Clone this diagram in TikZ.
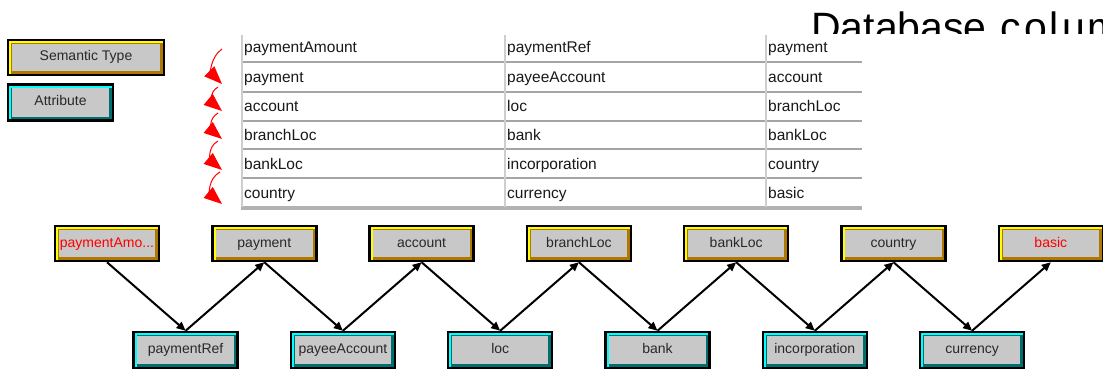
\documentclass[tikz,border=0pt]{standalone}
\usepackage{fontspec}
\setmainfont{Liberation Sans}
\usetikzlibrary{arrows.meta}

\definecolor{boxgray}{RGB}{200,200,200}
\definecolor{semhi}{RGB}{255,255,0}
\definecolor{semlo}{RGB}{176,120,0}
\definecolor{atthi}{RGB}{0,255,255}
\definecolor{attlo}{RGB}{0,110,110}
\definecolor{labeltext}{RGB}{40,40,40}
\definecolor{celltext}{RGB}{25,25,25}
\definecolor{gridlight}{RGB}{206,206,206}
\definecolor{gridmid}{RGB}{165,165,165}
\definecolor{hotred}{RGB}{255,0,0}

\newcommand\boxfont{\fontsize{14}{16}\selectfont}
\newcommand\cellfont{\fontsize{15.5}{18}\selectfont}

\tikzset{
  x=1pt, y=1pt,
  bevel/.style 2 args={path picture={
    \path (path picture bounding box.south west) coordinate (bsw)
          (path picture bounding box.north east) coordinate (bne);
    \fill[#1] (bsw) rectangle (bne);
    \fill[#2] ([xshift=3.2pt]bsw) rectangle ([yshift=-3.2pt]bne);
    \fill[boxgray] ([shift={(3.8pt,3.8pt)}]bsw) rectangle ([shift={(-3.8pt,-3.8pt)}]bne);
  }},
  boxbase/.style={draw=black, line width=2.5pt, minimum width=104pt,
    minimum height=35pt, inner sep=0pt, font=\boxfont, text=labeltext,
    text height=10pt, text depth=3pt},
  semtype/.style={boxbase, bevel={semhi}{semlo}},
  attrib/.style={boxbase, bevel={atthi}{attlo}},
  link/.style={draw=black, line width=2pt, -{Triangle[length=9pt,width=8pt]}},
  chain/.style={draw=hotred, line width=1pt, -{Triangle[length=18pt,width=14pt]}},
  cell/.style={anchor=base west, inner sep=0pt, font=\cellfont, text=celltext},
  rowrule/.style={draw=gridmid, line width=1.6pt},
  colrule/.style={draw=gridlight, line width=2.5pt}
}

\begin{document}
\begin{tikzpicture}
\useasboundingbox (0,0) rectangle (1103,370);
\fill[white] (0,0) rectangle (1103,370);

% heading, cut off by the table panel below it
\begin{scope}
  \clip (790,336) rectangle (1103,370);
  \node[anchor=base west, inner sep=0pt, font=\fontsize{41}{46}\selectfont]
    (heading) at (811,328) {Database\hspace{14pt}c\kern3pt o\kern3pt l\kern3pt u\kern3pt mn};
\end{scope}

% legend
\node[semtype, minimum width=156pt] (legsem) at (86,312.5) {Semantic Type};
\node[attrib, minimum width=105pt, minimum height=36pt] (legatt) at (60.5,267.5) {Attribute};

% table rules
\foreach \yy in {308,278,249,221,192}
  \draw[rowrule] (241,\yy) -- (862,\yy);
\draw[draw=gridmid!85, line width=3.5pt] (241,162) -- (862,162);
\foreach \xx in {242,505,766}
  \draw[colrule] (\xx,335) -- (\xx,163.5);

% table cells
\foreach \r/\a/\b [count=\i from 0] in {
    paymentAmount/paymentRef/payment,
    payment/payeeAccount/account,
    account/loc/branchLoc,
    branchLoc/bank/bankLoc,
    bankLoc/incorporation/country,
    country/currency/basic}{
  \pgfmathsetmacro\yb{370-53-29.1*\i}
  \node[cell] (c\i a) at (244,\yb) {\r};
  \node[cell] (c\i b) at (507,\yb) {\a};
  \node[cell] (c\i c) at (768,\yb) {\b};
}

% red chaining arrows beside the first column
\coordinate (t1) at (222,321); \coordinate (h1) at (222,286);
\coordinate (t2) at (218,283); \coordinate (h2) at (222,259);
\coordinate (t3) at (218,257); \coordinate (h3) at (222,231);
\coordinate (t4) at (218,229); \coordinate (h4) at (222,200);
\coordinate (t5) at (220,198); \coordinate (h5) at (222,166);
\draw[chain] (t1) to[out=215,in=135,looseness=1.1] (h1);
\foreach \k in {2,...,5}
  \draw[chain] (t\k) to[out=210,in=140,looseness=1.2] (h\k);

% semantic types
\node[semtype] (s1) at (107,126.5) {\textcolor{hotred}{paymentAmo...}};
\node[semtype] (s2) at (264.3,126.5) {payment};
\node[semtype] (s3) at (421.6,126.5) {account};
\node[semtype] (s4) at (578.9,126.5) {branchLoc};
\node[semtype] (s5) at (736.2,126.5) {bankLoc};
\node[semtype] (s6) at (893.5,126.5) {country};
\node[semtype] (s7) at (1050.8,126.5) {\textcolor{hotred}{basic}};

% attributes
\node[attrib, minimum height=36pt] (a1) at (185.6,20) {paymentRef};
\node[attrib, minimum height=36pt] (a2) at (342.9,20) {payeeAccount};
\node[attrib, minimum height=36pt] (a3) at (500.2,20) {loc};
\node[attrib, minimum height=36pt] (a4) at (657.5,20) {bank};
\node[attrib, minimum height=36pt] (a5) at (814.8,20) {incorporation};
\node[attrib, minimum height=36pt] (a6) at (972.1,20) {currency};

% links: each semantic type points to the next attribute, which points to the next type
\foreach \i [evaluate=\i as \j using int(\i+1)] in {1,...,6} {
  \draw[link] (s\i.south) -- (a\i.north);
  \draw[link] (a\i.north) -- (s\j.south);
}
\end{tikzpicture}
\end{document}
